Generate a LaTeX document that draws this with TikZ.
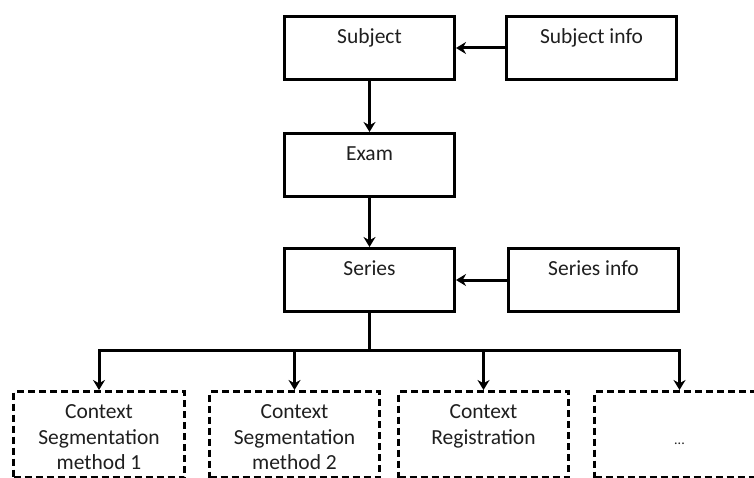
\documentclass[tikz,border=0pt]{standalone}
\usepackage{fontspec}
\setmainfont{Carlito}
\usetikzlibrary{arrows.meta}
\begin{document}
\begin{tikzpicture}[x=1pt,y=-1pt,
  box/.style={draw, line width=3pt, inner sep=0pt, minimum width=170pt,
    minimum height=63pt, text height=27pt, text depth=36pt, align=center,
    font=\fontsize{21.5}{25.5}\selectfont, text=black!88, anchor=north west},
  ctxbox/.style={box, dash pattern=on 7pt off 4pt, minimum height=86pt},
  conn/.style={line width=3pt},
  arr/.style={conn, -{Stealth[length=10pt,width=12pt]}}]
\clip (0,0) rectangle (754,478);
\fill[white] (0,0) rectangle (754,478);
\node[box] (subject) at (283,15) {Subject};
\node[box] (subjinfo) at (505,15) {Subject info};
\node[box] (exam) at (283,132) {Exam};
\node[box] (series) at (283,247) {Series};
\node[box] (serinfo) at (507,247) {Series info};
\node[ctxbox, minimum width=171pt, text height=78pt, text depth=8pt] (c1) at (12,390) {Context\\Segmentation\\method 1};
\node[ctxbox, text height=78pt, text depth=8pt] (c2) at (208,390) {Context\\Segmentation\\method 2};
\node[ctxbox, text height=52.5pt, text depth=33.5pt] (c3) at (397,390) {Context\\Registration};
\node[ctxbox, text height=53pt, text depth=33pt] (c4) at (593,390) {\fontsize{14}{16}\selectfont ...};
\coordinate (bus) at (series.south |- 0,350);
\draw[arr] (subjinfo.west) -- (subject.east);
\draw[arr] (serinfo.west) -- (series.east);
\draw[arr] (subject.south) -- (exam.north);
\draw[arr] (exam.south) -- (series.north);
\draw[conn] (series.south) -- (bus);
\draw[arr] (bus) -| (c1.north);
\draw[arr] (bus) -| (c2.north);
\draw[arr] (bus) -| (c3.north);
\draw[arr] (bus) -| (c4.north);
\end{tikzpicture}
\end{document}
